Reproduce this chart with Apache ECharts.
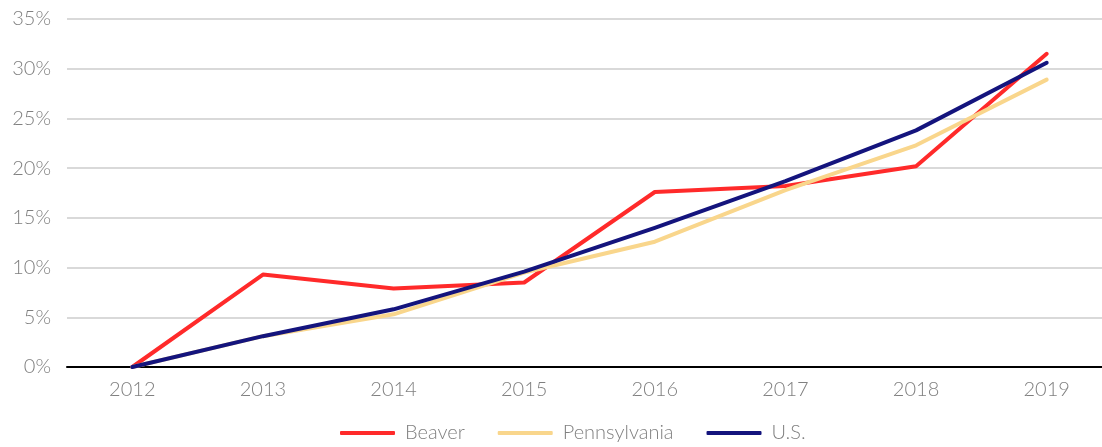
<!DOCTYPE html>
<html>
<head>
<meta charset="utf-8">
<script src="https://cdn.jsdelivr.net/npm/echarts@6/dist/echarts.min.js"></script>
<style>
html, body { margin: 0; padding: 0; background: #fff; }
#chart { width: 1102px; height: 447px; }
</style>
</head>
<body>
<div id="chart"></div>
<script>
const years = ['2012', '2013', '2014', '2015', '2016', '2017', '2018', '2019'];
const beaver = [0, 9.3, 7.9, 8.5, 17.6, 18.2, 20.2, 31.5];
const pennsylvania = [0, 3.1, 5.3, 9.5, 12.6, 17.8, 22.3, 28.9];
const us = [0, 3.1, 5.8, 9.6, 14.0, 18.7, 23.8, 30.6];

const font = 'Lato, "Open Sans", sans-serif';
const chart = echarts.init(document.getElementById('chart'));

function line(name, data, color) {
	return {
		name: name,
		type: 'line',
		data: data,
		symbol: 'none',
		color: color,
		lineStyle: { width: 4, color: color, cap: 'round', join: 'round' },
		clip: false
	};
}

chart.setOption({
	animation: false,
	grid: { left: 67, top: 19, width: 1045, height: 348, outerBoundsMode: 'none', containLabel: false },
	legend: {
		top: 418,
		left: 335,
		itemWidth: 55,
		itemHeight: 4,
		itemGap: 33,
		icon: 'roundRect',
		textStyle: { fontFamily: font, fontSize: 20, fontWeight: 300, color: '#808080', padding: [0, 0, 0, 5] },
		data: ['Beaver', 'Pennsylvania', 'U.S.']
	},
	xAxis: {
		type: 'category',
		data: years,
		boundaryGap: true,
		axisLine: { lineStyle: { color: '#000', width: 2 } },
		axisTick: { show: false },
		axisLabel: { fontFamily: font, fontSize: 20, fontWeight: 300, color: '#808080', margin: 13 }
	},
	yAxis: {
		type: 'value',
		min: 0,
		max: 35,
		interval: 5,
		axisLine: { show: false },
		axisTick: { show: false },
		splitLine: { lineStyle: { color: '#d9d9d9', width: 2 } },
		axisLabel: { fontFamily: font, fontSize: 20, fontWeight: 300, color: '#808080', margin: 16, formatter: '{value}%' }
	},
	series: [
		line('Beaver', beaver, '#ff2a2a'),
		line('Pennsylvania', pennsylvania, '#f9d68c'),
		line('U.S.', us, '#14147d')
	]
});
</script>
</body>
</html>
